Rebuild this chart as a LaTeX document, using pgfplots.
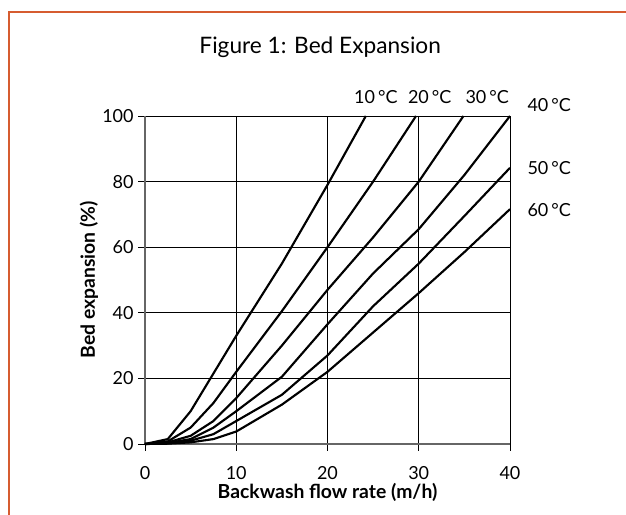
\documentclass[border=0pt]{standalone}
\usepackage{fontspec}
\setmainfont{Lato}
\usepackage{pgfplots}
\pgfplotsset{compat=1.18}
\definecolor{frameorange}{RGB}{214,92,48}
\tikzset{curve/.style={black, line width=1.6pt, line join=round, mark=none}}
\begin{document}
\begin{tikzpicture}[x=1pt,y=1pt]
\path[use as bounding box] (0,0) rectangle (469.5,386.25);
\draw[frameorange,line width=1.5pt] (7.1,0) -- (7.1,377.25) -- (470,377.25);
\begin{axis}[
  at={(108.75pt,53.25pt)}, anchor=south west,
  scale only axis, width=273.75pt, height=246pt,
  xmin=0, xmax=40, ymin=0, ymax=100,
  xtick={0,10,20,30,40}, ytick={0,20,40,60,80,100},
  axis lines=left, axis line style={gray!80!black, line width=0.8pt, -},
  grid=major, major grid style={black, line width=0.6pt},
  tick align=outside, major tick length=5pt, tick style={black, line width=0.6pt},
  /pgf/number format/assume math mode=true,
  ticklabel style={font=\fontsize{13.5}{15}\selectfont},
  xticklabel style={yshift=-8pt},
  xlabel={\textbf{Backwash flow rate (m/h)}},
  ylabel={\textbf{Bed expansion (\%)}},
  label style={font=\fontsize{14.5}{16}\selectfont},
  xlabel style={at={(axis description cs:0.5,0)}, anchor=center, yshift=-36pt},
  ylabel style={at={(axis description cs:0,0.5)}, anchor=center, yshift=42pt},
  clip=false,
]
% 10 C
\addplot[curve] coordinates {(0,0) (2.5,1.5) (5,10) (10,33) (15,55) (20,79) (24.2,100)};
% 20 C
\addplot[curve] coordinates {(0,0) (2.5,0.8) (5,5) (7.5,12.5) (10,22) (15,40.5) (20,60) (25,80) (29.7,100)};
% 30 C
\addplot[curve] coordinates {(0,0) (2.5,0.5) (5,2.5) (7.5,7) (10,14) (15,30) (20,47) (25,63) (30,80) (34.9,100)};
% 40 C
\addplot[curve] coordinates {(0,0) (2.5,0.3) (5,1.5) (7.5,5) (10,10) (15,20.5) (20,36.5) (25,52) (30,65.5) (35,82) (40,100)};
% 50 C
\addplot[curve] coordinates {(0,0) (2.5,0.2) (5,1) (7.5,3) (10,7) (15,15) (20,27) (25,42) (30,55) (35,69.5) (40,84.2)};
% 60 C
\addplot[curve] coordinates {(0,0) (2.5,0.1) (5,0.5) (7.5,1.5) (10,3.8) (15,12) (20,22) (25,34) (30,46) (35,58.5) (40,71.6)};
\node[font=\fontsize{17}{19}\selectfont] at (axis cs:19.2,121) {Figure 1: Bed Expansion};
\node[font=\fontsize{13.5}{15}\selectfont] at (axis cs:25.3,105.8) {10\,°C};
\node[font=\fontsize{13.5}{15}\selectfont] at (axis cs:31.2,105.8) {20\,°C};
\node[font=\fontsize{13.5}{15}\selectfont] at (axis cs:37.5,105.8) {30\,°C};
\node[font=\fontsize{13.5}{15}\selectfont] at (axis cs:44.3,103.4) {40\,°C};
\node[font=\fontsize{13.5}{15}\selectfont] at (axis cs:44.3,84.1) {50\,°C};
\node[font=\fontsize{13.5}{15}\selectfont] at (axis cs:44.3,71.3) {60\,°C};
\end{axis}
\end{tikzpicture}
\end{document}
